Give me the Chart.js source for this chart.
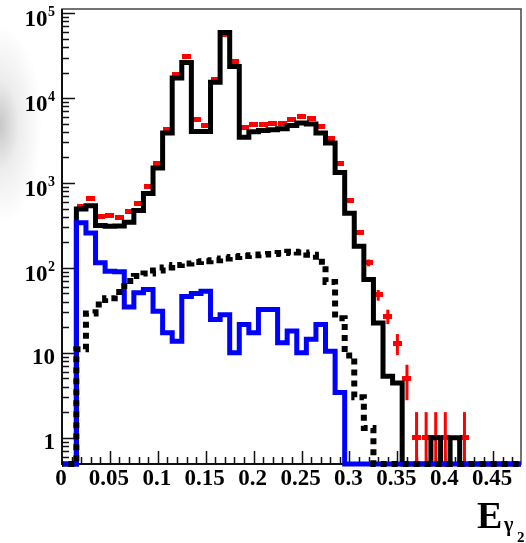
<!DOCTYPE html>
<html>
<head>
<meta charset="utf-8">
<script src="https://cdn.jsdelivr.net/npm/chart.js@4.4.0/dist/chart.umd.min.js"></script>
<style>
  html, body { margin: 0; padding: 0; }
  body {
    width: 526px; height: 543px; overflow: hidden;
    background: radial-gradient(ellipse 42px 100px at 0px 125px, rgba(175,175,175,0.7) 0%, rgba(210,210,210,0.4) 45%, rgba(255,255,255,0) 100%) #fff;
  }
  canvas { display: block; }
</style>
</head>
<body>
<canvas id="egChart" width="526" height="543"></canvas>
<script>
// histogram bins: width 0.01, bin k centred on k * 0.01
const binWidth = 0.01;
const binCenters = [0.00, 0.01, 0.02, 0.03, 0.04, 0.05, 0.06, 0.07, 0.08, 0.09,
  0.10, 0.11, 0.12, 0.13, 0.14, 0.15, 0.16, 0.17, 0.18, 0.19,
  0.20, 0.21, 0.22, 0.23, 0.24, 0.25, 0.26, 0.27, 0.28, 0.29,
  0.30, 0.31, 0.32, 0.33, 0.34, 0.35, 0.36, 0.37, 0.38, 0.39,
  0.40, 0.41, 0.42, 0.43, 0.44, 0.45, 0.46, 0.47, 0.48];

// data (red points)
const dataCounts = [0, 0, 530, 649, 398, 416, 387, 456, 570, 898,
  1675, 4240, 18800, 30900, 5560, 4770, 16400, 56000, 27000, 4510,
  4850, 4900, 4990, 5080, 5560, 6070, 5820, 4640, 3300, 1675,
  630, 262, 115, 48, 27, 13, 5, 1, 1, 1,
  1, 0, 1, 0, 0, 0, 0, 0, 0];

// total MC (black solid)
const mcTotal = [0, 0, 494, 541, 315, 310, 312, 344, 475, 750,
  1500, 3870, 17200, 26200, 4050, 4050, 15400, 59200, 23500, 3450,
  4000, 4150, 4250, 4350, 4750, 5100, 4950, 3870, 2960, 1330,
  440, 180, 73, 22.5, 5.3, 4.4, 0, 0, 0, 1,
  0, 1, 0, 0, 0, 0, 0, 0, 0];

// blue component
const mcBlue = [0, 0, 340, 258, 115, 91, 90, 34.7, 50.8, 55.6,
  30.9, 17.2, 13.7, 46, 50, 53, 24.7, 28, 10, 21.5,
  17.2, 32.3, 32.3, 13.1, 18, 10, 14.4, 21.5, 10.4, 3.4,
  0, 0, 0, 0, 0, 0, 0, 0, 0, 0,
  0, 0, 0, 0, 0, 0, 0, 0, 0];

// dashed component
const mcDashed = [0, 0, 11, 29, 37, 44, 52, 70, 80, 86,
  93, 101, 108, 113, 117, 120, 123, 129, 134, 138,
  141, 144, 146, 150, 155, 152, 143, 118, 68, 25.5,
  9.3, 3, 1.3, 0, 0, 0, 0, 0, 0, 0,
  0, 0, 0, 0, 0, 0, 0, 0, 0];

const xTickValues = [0, 0.05, 0.1, 0.15, 0.2, 0.25, 0.3, 0.35, 0.4, 0.45];
const xTickLabels = ['0', '0.05', '0.1', '0.15', '0.2', '0.25', '0.3', '0.35', '0.4', '0.45'];
const yTickValues = [1, 10, 100, 1000, 10000, 100000];
const yTickBase = ['1', '10', '10', '10', '10', '10'];
const yTickPower = ['', '', '2', '3', '4', '5'];

const X_MIN = 0, X_MAX = 0.479;
const Y_MIN = 0.49, Y_MAX = 1.12e5;

const SERIF = '"Liberation Serif", "DejaVu Serif", serif';

// empty bins sit on the lower edge of the frame
function histSteps(values) {
  const pts = [];
  values.forEach((v, k) => {
    const yv = v > 0 ? v : Y_MIN;
    pts.push({ x: binCenters[k] - binWidth / 2, y: yv });
    pts.push({ x: binCenters[k] + binWidth / 2, y: yv });
  });
  return pts;
}

const dataPoints = [];
dataCounts.forEach((v, k) => {
  if (v > 0) dataPoints.push({ x: binCenters[k], y: v });
});

// red marker: flat rectangle
const marker = document.createElement('canvas');
marker.width = 9;
marker.height = 5;
const mctx = marker.getContext('2d');
mctx.fillStyle = '#ff0000';
mctx.fillRect(0, 0, 9, 5);

const histClip = { left: 0, right: 0, top: 0, bottom: 4 };

// vertical sqrt(N) error bars under the red markers
const errorBars = {
  id: 'errorBars',
  beforeDatasetDraw(chart, args) {
    if (args.meta._dataset.label !== 'data') return;
    const { ctx, chartArea: a, scales: { x, y } } = chart;
    ctx.save();
    ctx.beginPath();
    ctx.rect(a.left, a.top, a.right - a.left, a.bottom - a.top + 3);
    ctx.clip();
    ctx.strokeStyle = '#ff0000';
    ctx.lineWidth = 3;
    dataPoints.forEach(p => {
      const err = Math.sqrt(p.y);
      const lo = p.y - err;
      const px = x.getPixelForValue(p.x);
      const yHi = y.getPixelForValue(p.y + err);
      const yLo = lo > 0 ? y.getPixelForValue(lo) : a.bottom + 3;
      ctx.beginPath();
      ctx.moveTo(px, yLo);
      ctx.lineTo(px, yHi);
      ctx.stroke();
    });
    ctx.restore();
  }
};

// ROOT-style frame: inward ticks, bold serif labels
const frameAxes = {
  id: 'frameAxes',
  beforeDatasetsDraw(chart) {
    const { ctx, chartArea: a, scales: { x, y } } = chart;
    ctx.save();
    ctx.strokeStyle = '#444';
    ctx.lineWidth = 1.5;
    ctx.strokeRect(a.left, a.top, a.right - a.left, a.bottom - a.top);

    ctx.strokeStyle = '#111';
    ctx.lineWidth = 2;
    ctx.beginPath();
    ctx.moveTo(a.left, a.top);
    ctx.lineTo(a.left, a.bottom);
    ctx.lineTo(a.right, a.bottom);
    ctx.stroke();

    ctx.lineWidth = 1.5;
    ctx.beginPath();
    // y: decades long, 2..9 short
    for (let d = 0.1; d <= 1e5; d *= 10) {
      for (let m = 1; m <= 9; m++) {
        const v = d * m;
        if (v < Y_MIN || v > Y_MAX) continue;
        const py = Math.round(y.getPixelForValue(v)) + 0.5;
        const len = m === 1 ? 13 : 7;
        ctx.moveTo(a.left, py);
        ctx.lineTo(a.left + len, py);
      }
    }
    // x: every 0.01, longer every 0.05
    for (let i = 1; i <= 47; i++) {
      const px = Math.round(x.getPixelForValue(i / 100)) + 0.5;
      const len = i % 5 === 0 ? 13 : 7;
      ctx.moveTo(px, a.bottom);
      ctx.lineTo(px, a.bottom - len);
    }
    ctx.stroke();

    ctx.fillStyle = '#000';
    ctx.textBaseline = 'alphabetic';

    // x tick labels
    ctx.font = 'bold 23px ' + SERIF;
    ctx.textAlign = 'center';
    xTickValues.forEach((v, i) => {
      ctx.fillText(xTickLabels[i], x.getPixelForValue(v) - 1, 485);
    });

    // y tick labels with superscript powers
    const right = 55;
    ctx.textAlign = 'right';
    yTickValues.forEach((v, i) => {
      const py = y.getPixelForValue(v);
      if (yTickPower[i]) {
        ctx.font = 'bold 14px ' + SERIF;
        const w = ctx.measureText(yTickPower[i]).width;
        ctx.fillText(yTickPower[i], right, py + 3);
        ctx.font = 'bold 23px ' + SERIF;
        ctx.fillText(yTickBase[i], right - w - 0.5, py + 13);
      } else {
        ctx.font = 'bold 23px ' + SERIF;
        ctx.fillText(yTickBase[i], right, py + 11);
      }
    });

    // axis title E_{gamma_2}
    ctx.textAlign = 'left';
    ctx.font = 'bold 38px ' + SERIF;
    ctx.fillText('E', 477, 528);
    ctx.font = 'bold 20px ' + SERIF;
    ctx.fillText('\u03b3', 504, 531);
    ctx.font = 'bold 15px ' + SERIF;
    ctx.fillText('2', 517, 542);
    ctx.restore();
  }
};

new Chart(document.getElementById('egChart'), {
  type: 'line',
  data: {
    datasets: [
      {
        label: 'dashed',
        data: histSteps(mcDashed),
        borderColor: '#000000',
        borderWidth: 6,
        borderDash: [6, 5],
        borderCapStyle: 'butt',
        borderJoinStyle: 'miter',
        pointRadius: 0,
        tension: 0,
        clip: histClip,
        order: 0
      },
      {
        label: 'blue',
        data: histSteps(mcBlue),
        borderColor: '#0000ff',
        borderWidth: 5,
        borderJoinStyle: 'miter',
        pointRadius: 0,
        tension: 0,
        clip: histClip,
        order: 1
      },
      {
        label: 'total',
        data: histSteps(mcTotal),
        borderColor: '#000000',
        borderWidth: 5,
        borderJoinStyle: 'miter',
        pointRadius: 0,
        tension: 0,
        clip: histClip,
        order: 2
      },
      {
        label: 'data',
        data: dataPoints,
        showLine: false,
        pointStyle: marker,
        pointRadius: 4,
        clip: { left: 0, right: 0, top: 0, bottom: 4 },
        order: 3
      }
    ]
  },
  options: {
    responsive: false,
    animation: false,
    layout: { padding: { left: 62, top: 9, right: 1, bottom: 79 } },
    plugins: { legend: { display: false }, tooltip: { enabled: false } },
    scales: {
      x: { type: 'linear', min: X_MIN, max: X_MAX, display: false },
      y: { type: 'logarithmic', min: Y_MIN, max: Y_MAX, display: false }
    }
  },
  plugins: [frameAxes, errorBars]
});
</script>
</body>
</html>
